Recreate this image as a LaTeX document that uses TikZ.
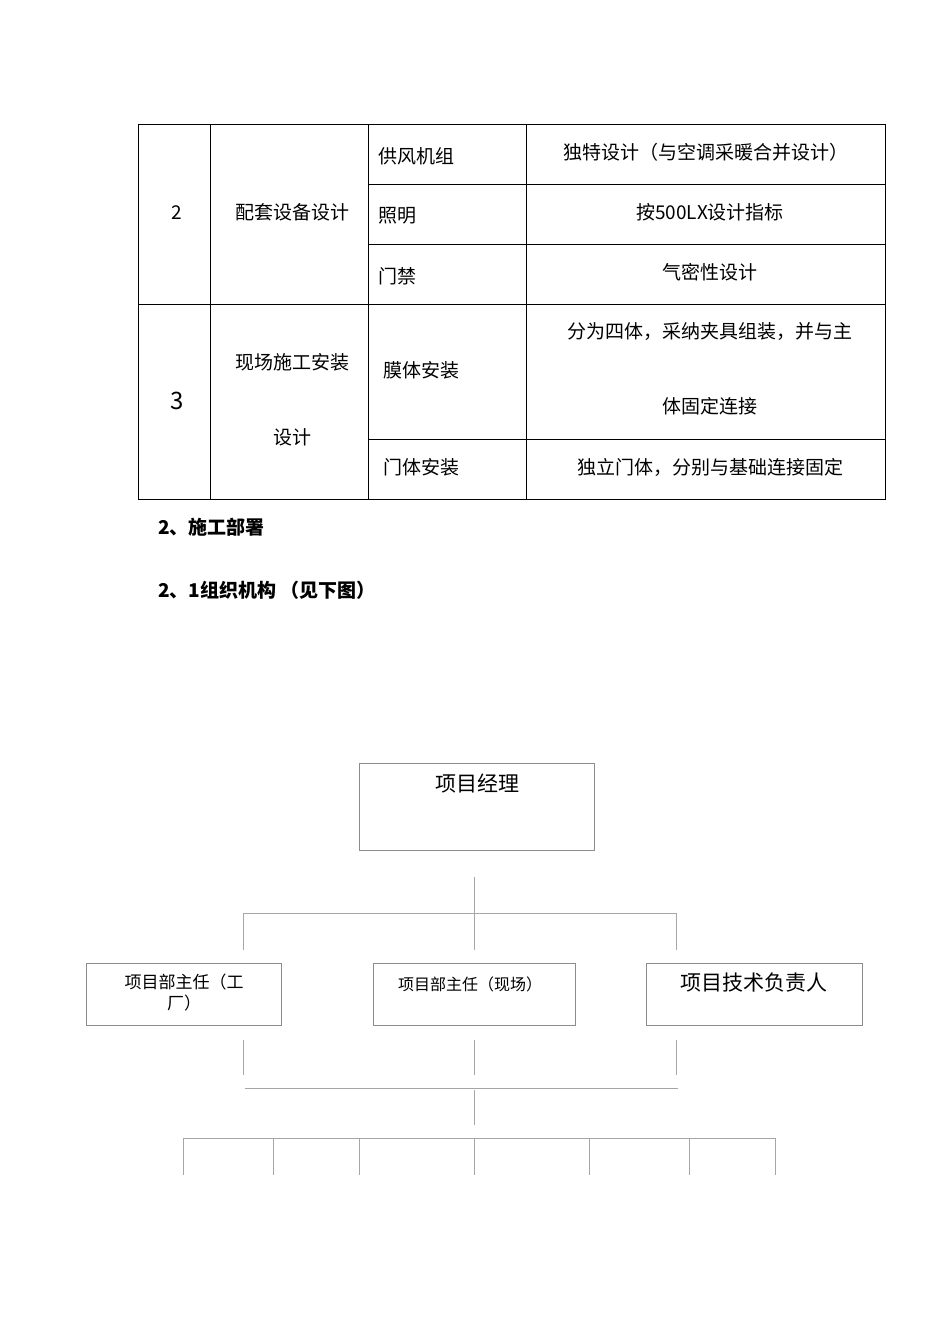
\documentclass[tikz,border=0pt]{standalone}
\usepackage{fontspec}
\newfontfamily\cjk{Noto Sans CJK SC}
\begin{document}
\begin{tikzpicture}[x=1pt,y=-1pt,font=\cjk\fontsize{19}{22}\selectfont,
 t/.style={inner sep=0pt,anchor=center},
 ob/.style={draw=black!45,line width=0.6pt},
 ln/.style={draw=black!35,line width=0.6pt}]
\useasboundingbox (0,0) rectangle (950,1344);
% table
\draw[line width=0.7pt] (138,124) rectangle (885,499);
\draw[line width=0.7pt] (210,124)--(210,499) (368,124)--(368,499) (526,124)--(526,499)
 (368,184)--(885,184) (368,244)--(885,244) (138,304)--(885,304) (368,439)--(885,439);
\node[t] (a1) at (177,213) {2};
\node[t] (a2) at (292,212) {配套设备设计};
\node[t,anchor=west] (a3) at (378,156) {供风机组};
\node[t] (a4) at (706,152) {独特设计（与空调采暖合并设计）};
\node[t,anchor=west] (a5) at (378,216) {照明};
\node[t] (a6) at (710,212) {按500LX设计指标};
\node[t,anchor=west] (a7) at (378,276) {门禁};
\node[t] (a8) at (710,272) {气密性设计};
\node[t,font=\cjk\fontsize{24}{26}\selectfont] (b1) at (177,401) {3};
\node[t] (b2) at (292,362) {现场施工安装};
\node[t] (b3) at (292,437) {设计};
\node[t,anchor=west] (b4) at (383,370) {膜体安装};
\node[t] (b5) at (710,332) {分为四体，采纳夹具组装，并与主};
\node[t] (b6) at (710,406) {体固定连接};
\node[t,anchor=west] (b7) at (383,467) {门体安装};
\node[t] (b8) at (710,467) {独立门体，分别与基础连接固定};
\node[t,anchor=west,font=\cjk\bfseries\fontsize{19}{22}\selectfont] (h1) at (158,527) {2、施工部署};
\node[t,anchor=west,font=\cjk\bfseries\fontsize{19}{22}\selectfont] (h2) at (158,590) {2、1组织机构 （见下图）};
% org chart
\node[ob,minimum width=235pt,minimum height=87pt,inner sep=0pt] (pm) at (476.5,806.5) {};
\node[t,font=\cjk\fontsize{21}{24}\selectfont] (pmt) at (477,783) {项目经理};
\node[ob,minimum width=195pt,minimum height=62pt,inner sep=0pt] (d1) at (183.5,994) {};
\node[t,font=\cjk\fontsize{17}{21}\selectfont,align=center] (d1t) at (184,993) {项目部主任（工\\厂）};
\node[ob,minimum width=202pt,minimum height=62pt,inner sep=0pt] (d2) at (474,994) {};
\node[t,font=\cjk\fontsize{16}{18}\selectfont] (d2t) at (470,984) {项目部主任（现场）};
\node[ob,minimum width=216pt,minimum height=62pt,inner sep=0pt] (d3) at (754,994) {};
\node[t,font=\cjk\fontsize{21}{24}\selectfont] (d3t) at (754,983) {项目技术负责人};
\draw[ln] (474,877)--(474,913) (243,913)--(676,913) (243,913)--(243,950) (474,913)--(474,950) (676,913)--(676,950);
\draw[ln] (243,1040)--(243,1075) (474,1040)--(474,1075) (676,1040)--(676,1075)
 (245,1088)--(678,1088) (474,1090)--(474,1125) (183,1138)--(775,1138);
\foreach \x in {183,273,359,474,589,689,775} \draw[ln] (\x,1138)--(\x,1175);
\end{tikzpicture}
\end{document}
